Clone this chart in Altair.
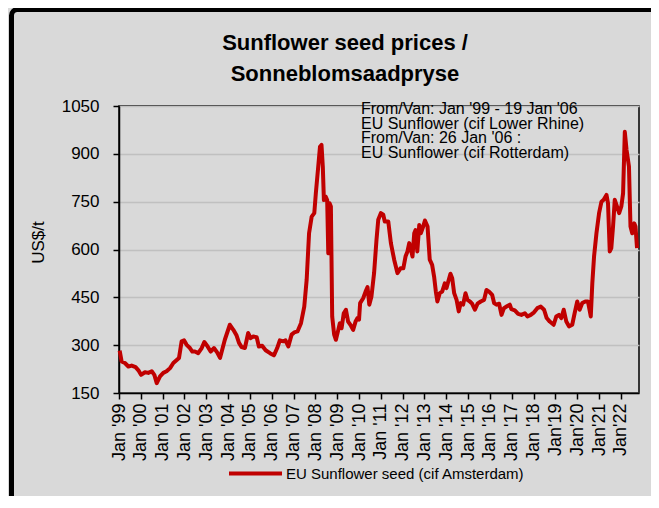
import json
import altair as alt
import pandas as pd

# ---- data ----
years = [
    1999.03, 1999.12, 1999.27, 1999.43, 1999.58, 1999.76, 1999.89, 2000.01, 2000.19, 2000.34,
    2000.50, 2000.62, 2000.73, 2000.88, 2001.03, 2001.18, 2001.34, 2001.49, 2001.75, 2001.87,
    2001.98, 2002.10, 2002.25, 2002.36, 2002.48, 2002.63, 2002.79, 2002.91, 2003.06, 2003.20,
    2003.35, 2003.49, 2003.63, 2003.85, 2004.08, 2004.24, 2004.39, 2004.50, 2004.62, 2004.77,
    2004.92, 2005.03, 2005.15, 2005.31, 2005.41, 2005.56, 2005.72, 2005.92, 2006.10, 2006.25,
    2006.37, 2006.53, 2006.63, 2006.76, 2006.91, 2007.03, 2007.18, 2007.34, 2007.49, 2007.60,
    2007.71, 2007.83, 2007.95, 2008.02, 2008.13, 2008.21, 2008.28, 2008.34, 2008.39, 2008.47,
    2008.54, 2008.59, 2008.65, 2008.71, 2008.77, 2008.86, 2008.94, 2009.05, 2009.12, 2009.20,
    2009.30, 2009.40, 2009.50, 2009.63, 2009.73, 2009.84, 2009.93, 2010.00, 2010.05, 2010.19,
    2010.30, 2010.39, 2010.47, 2010.57, 2010.69, 2010.80, 2010.88, 2011.00, 2011.11, 2011.18,
    2011.34, 2011.46, 2011.61, 2011.76, 2011.90, 2012.03, 2012.13, 2012.22, 2012.30, 2012.38,
    2012.45, 2012.53, 2012.59, 2012.67, 2012.76, 2012.83, 2012.94, 2013.02, 2013.14, 2013.24,
    2013.35, 2013.44, 2013.52, 2013.59, 2013.70, 2013.81, 2013.93, 2014.01, 2014.08, 2014.19,
    2014.27, 2014.36, 2014.47, 2014.57, 2014.66, 2014.77, 2014.88, 2014.97, 2015.08, 2015.18,
    2015.31, 2015.43, 2015.58, 2015.73, 2015.84, 2015.96, 2016.10, 2016.19, 2016.30, 2016.42,
    2016.53, 2016.64, 2016.76, 2016.91, 2016.98, 2017.14, 2017.29, 2017.44, 2017.60, 2017.72,
    2017.87, 2018.02, 2018.17, 2018.33, 2018.48, 2018.60, 2018.74, 2018.92, 2019.04, 2019.16,
    2019.27, 2019.38, 2019.50, 2019.62, 2019.77, 2019.88, 2020.00, 2020.11, 2020.23, 2020.37,
    2020.49, 2020.62, 2020.69, 2020.77, 2020.88, 2021.00, 2021.11, 2021.21, 2021.34, 2021.41,
    2021.49, 2021.56, 2021.64, 2021.72, 2021.82, 2021.92, 2022.02, 2022.10, 2022.18, 2022.26,
    2022.37, 2022.44, 2022.52, 2022.61, 2022.67, 2022.74,
]
prices = [
    283, 249, 244, 233, 236, 231, 221, 207, 215, 213,
    218, 207, 181, 202, 213, 218, 228, 244, 260, 312,
    315, 301, 291, 280, 280, 275, 291, 310, 296, 280,
    291, 278, 260, 317, 364, 348, 330, 307, 294, 291,
    338, 322, 327, 325, 296, 298, 284, 275, 268, 291,
    315, 312, 315, 296, 333, 340, 343, 369, 421, 505,
    651, 703, 714, 776, 860, 922, 928, 860, 755, 766,
    755, 588, 745, 735, 390, 333, 317, 348, 369, 353,
    400, 411, 374, 361, 348, 374, 385, 380, 432, 447,
    468, 482, 427, 453, 526, 630, 693, 714, 709, 688,
    688, 620, 568, 526, 541, 541, 578, 594, 620, 599,
    578, 651, 661, 594, 677, 651, 672, 691, 672, 568,
    552, 515, 468, 437, 463, 468, 494, 479, 497, 524,
    510, 463, 442, 406, 432, 427, 463, 442, 437, 430,
    411, 430, 437, 442, 473, 468, 458, 432, 427, 430,
    395, 416, 421, 427, 413, 409, 398, 395, 400, 390,
    395, 403, 416, 421, 411, 385, 374, 364, 390, 395,
    385, 411, 374, 359, 364, 400, 437, 411, 432, 437,
    437, 390, 494, 578, 651, 714, 750, 756, 771, 745,
    594, 604, 672, 756, 735, 714, 735, 776, 969, 912,
    860, 672, 651, 682, 672, 604,
]
tick_years = list(range(1999, 2023))
tick_labels = [
    "Jan '99", "Jan '00", "Jan '01", "Jan '02", "Jan '03", "Jan '04", "Jan '05", "Jan '06",
    "Jan '07", "Jan '08", "Jan '09", "Jan '10", "Jan '11", "Jan '12", "Jan '13", "Jan '14",
    "Jan '15", "Jan '16", "Jan '17", "Jan '18", "Jan'19", "Jan'20", "Jan'21", "Jan'22",
]
y_ticks = [150, 300, 450, 600, 750, 900, 1050]
title_lines = ["Sunflower seed prices /", "Sonneblomsaadpryse"]
note_lines = [
    "From/Van: Jan '99 - 19 Jan '06",
    "EU Sunflower (cif Lower Rhine)",
    "From/Van: 26 Jan '06 :",
    "EU Sunflower (cif Rotterdam)",
]
series_name = "EU Sunflower seed (cif Amsterdam)"
y_title = "US$/t"

FONT = "Liberation Sans"
RED = "#c00000"

df = pd.DataFrame({"year": years, "price": prices, "series": series_name})
one = pd.DataFrame({"k": [0]})

label_expr = json.dumps(tick_labels) + "[round(datum.value) - 1999]"

x_enc = alt.X(
    "year:Q",
    scale=alt.Scale(domain=[1999.0, 2022.83], nice=False, zero=False),
    axis=alt.Axis(
        values=tick_years, labelExpr=label_expr, labelAngle=270, labelAlign="right",
        labelBaseline="middle", tickSize=6, labelPadding=4, grid=False, title=None,
        labelFont=FONT, labelFontSize=18, labelColor="black", domainColor="black",
        tickColor="black", labelOverlap=False, labelFlush=False, domainWidth=1.5, tickWidth=1.5,
    ),
)
y_enc = alt.Y(
    "price:Q",
    scale=alt.Scale(domain=[150, 1050], nice=False, zero=False),
    axis=alt.Axis(
        values=y_ticks, format="d", tickSize=6, labelPadding=14, grid=True, gridColor="#c0c0c0",
        gridWidth=1.5, labelFont=FONT, labelFontSize=17, labelColor="black",
        domainColor="black", tickColor="black", domainWidth=1.5, tickWidth=1.5,
        title=y_title, titleFont=FONT, titleFontSize=17, titleFontWeight="normal",
        titleColor="black", titleAngle=270, titleAlign="center", titleBaseline="middle",
        titleX=-81, titleY=136, labelFlush=False,
    ),
)

frame = alt.Chart(one).mark_rect(
    filled=False, stroke="black", strokeWidth=5, cornerRadius=6, clip=False
).encode(
    x=alt.value(-107.5), x2=alt.value(700), y=alt.value(-96.5), y2=alt.value(600)
)

title = alt.Chart(one).mark_text(
    text=title_lines, align="center", baseline="alphabetic", font=FONT, fontSize=22,
    fontWeight="bold", lineHeight=31, color="black",
).encode(x=alt.value(226), y=alt.value(-56))

line = alt.Chart(df).mark_line(strokeWidth=4, strokeJoin="round").encode(
    x=x_enc,
    y=y_enc,
    color=alt.Color(
        "series:N",
        scale=alt.Scale(range=[RED]),
        legend=alt.Legend(
            orient="none", legendX=108, legendY=339, title=None, symbolType="stroke",
            symbolSize=2809, symbolStrokeWidth=4, labelFont=FONT, labelFontSize=15,
            labelColor="black", labelOffset=2, padding=0, labelLimit=400,
        ),
    ),
)

notes = alt.Chart(one).mark_text(
    text=note_lines, align="left", baseline="alphabetic", font=FONT, fontSize=16,
    lineHeight=14.7, color="black",
).encode(x=alt.value(242), y=alt.value(8))

chart = alt.layer(frame, title, line, notes).properties(
    width=520,
    height=287,
    autosize=alt.AutoSizeParams(type="none"),
    padding={"left": 111, "top": 98, "right": 12, "bottom": 103},
    background="#d9d9d9",
).configure_view(stroke="black", strokeWidth=1.5)

chart.save("out.html", embed_options={"renderer": "svg", "actions": False})
